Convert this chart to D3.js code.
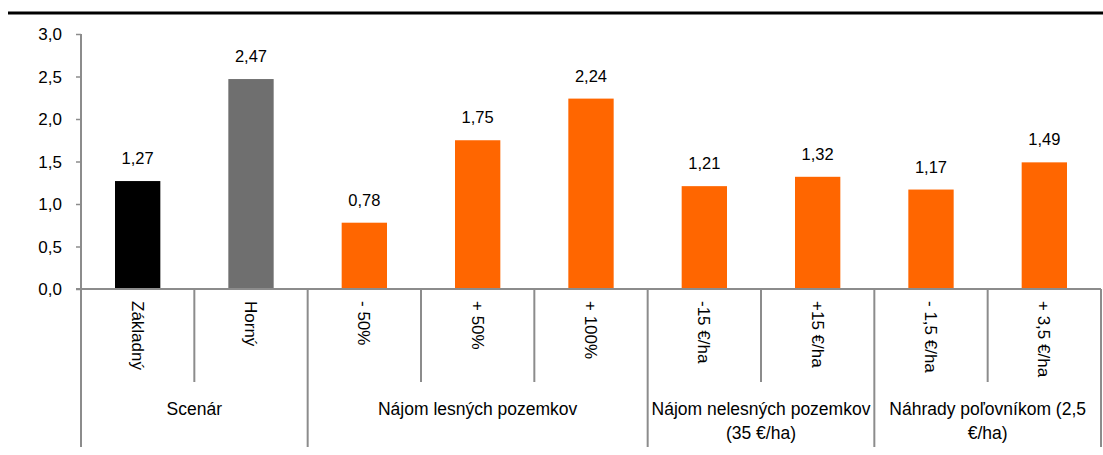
<html>

<head>
    <script src="https://d3js.org/d3.v7.min.js"></script>
    <style>
        body { margin: 0; background: #fff; }
        text { font-family: "Liberation Sans", Arial, sans-serif; fill: #000; }
    </style>
</head>

<body>
    <svg id="svg" width="1103" height="455"></svg>
    <script>
        const categories = ["Základný", "Horný", "- 50%", "+ 50%", "+ 100%", "-15 €/ha", "+15 €/ha", "- 1,5 €/ha", "+ 3,5 €/ha"];
        const values = [1.27, 2.47, 0.78, 1.75, 2.24, 1.21, 1.32, 1.17, 1.49];
        const barColors = ["#000000", "#6f6f6f", "#ff6600", "#ff6600", "#ff6600", "#ff6600", "#ff6600", "#ff6600", "#ff6600"];
        const groupNames = [["Scenár"], ["Nájom lesných pozemkov"], ["Nájom nelesných pozemkov", "(35 €/ha)"], ["Náhrady poľovníkom (2,5", "€/ha)"]];
        const groupSizes = [2, 3, 2, 2];
        const yTicks = [0, 0.5, 1, 1.5, 2, 2.5, 3];

        const svg = d3.select("#svg");
        const axisColor = "#8c8c8c";
        const plotLeft = 81, plotRight = 1101, plotTop = 34, plotBottom = 289;

        // top rule
        svg.append("line")
            .attr("x1", 8).attr("x2", 1103).attr("y1", 13).attr("y2", 13)
            .attr("stroke", "#000").attr("stroke-width", 3);

        const xScale = d3.scaleBand().domain(categories).range([plotLeft, plotRight]).padding(0);
        const yScale = d3.scaleLinear().domain([0, 3]).range([plotBottom, plotTop]);
        const fmt = v => d3.format(".1f")(v).replace(".", ",");

        // y axis
        const yAxis = svg.append("g").attr("transform", `translate(${plotLeft},0)`)
            .call(d3.axisLeft(yScale).tickValues(yTicks).tickSize(5).tickPadding(14).tickFormat(fmt));
        yAxis.select(".domain").remove();
        yAxis.selectAll(".tick line").attr("stroke", axisColor).attr("stroke-width", 1.5);
        yAxis.selectAll(".tick text").style("font-size", "17px").attr("dy", "0.35em");
        svg.append("line")
            .attr("x1", plotLeft).attr("x2", plotLeft).attr("y1", plotTop).attr("y2", 447)
            .attr("stroke", axisColor).attr("stroke-width", 2);

        // bars
        const bw = xScale.bandwidth() * 0.4;
        svg.selectAll("rect.bar").data(values)
            .join("rect")
            .attr("class", "bar")
            .attr("x", (d, i) => xScale(categories[i]) + xScale.bandwidth() / 2 - bw / 2)
            .attr("y", d => yScale(d))
            .attr("width", bw)
            .attr("height", d => plotBottom - yScale(d))
            .style("fill", (d, i) => barColors[i]);

        svg.selectAll("text.value").data(values)
            .join("text")
            .attr("class", "value")
            .attr("x", (d, i) => xScale(categories[i]) + xScale.bandwidth() / 2)
            .attr("y", d => yScale(d) - 17)
            .style("text-anchor", "middle")
            .style("font-size", "16.5px")
            .text(d => d3.format(".2f")(d).replace(".", ","));

        // x axis line
        svg.append("line")
            .attr("x1", 76).attr("x2", plotRight).attr("y1", plotBottom).attr("y2", plotBottom)
            .attr("stroke", axisColor).attr("stroke-width", 2);

        // category labels, rotated
        svg.selectAll("text.cat").data(categories)
            .join("text")
            .attr("class", "cat")
            .attr("transform", d => `translate(${xScale(d) + xScale.bandwidth() / 2},301) rotate(90)`)
            .attr("dy", "0.35em")
            .style("text-anchor", "start")
            .style("font-size", "17px")
            .text(d => d);

        // separators
        let idx = 0;
        const groupEdges = [0];
        groupSizes.forEach(n => { idx += n; groupEdges.push(idx); });
        categories.forEach((c, i) => {
            if (i === 0) return;
            const isGroup = groupEdges.indexOf(i) > -1;
            svg.append("line")
                .attr("x1", xScale(c)).attr("x2", xScale(c))
                .attr("y1", plotBottom).attr("y2", isGroup ? 447 : 382)
                .attr("stroke", axisColor).attr("stroke-width", 2);
        });
        svg.append("line")
            .attr("x1", plotRight).attr("x2", plotRight).attr("y1", plotBottom).attr("y2", 447)
            .attr("stroke", axisColor).attr("stroke-width", 2);

        // group labels
        groupNames.forEach((lines, g) => {
            const x0 = xScale(categories[groupEdges[g]]);
            const x1 = groupEdges[g + 1] < categories.length ? xScale(categories[groupEdges[g + 1]]) : plotRight;
            const t = svg.append("text")
                .attr("x", (x0 + x1) / 2)
                .attr("y", 415)
                .style("text-anchor", "middle")
                .style("font-size", "17.5px");
            lines.forEach((l, k) => {
                t.append("tspan").attr("x", (x0 + x1) / 2).attr("dy", k === 0 ? 0 : 24).text(l);
            });
        });
    </script>
</body>

</html>
